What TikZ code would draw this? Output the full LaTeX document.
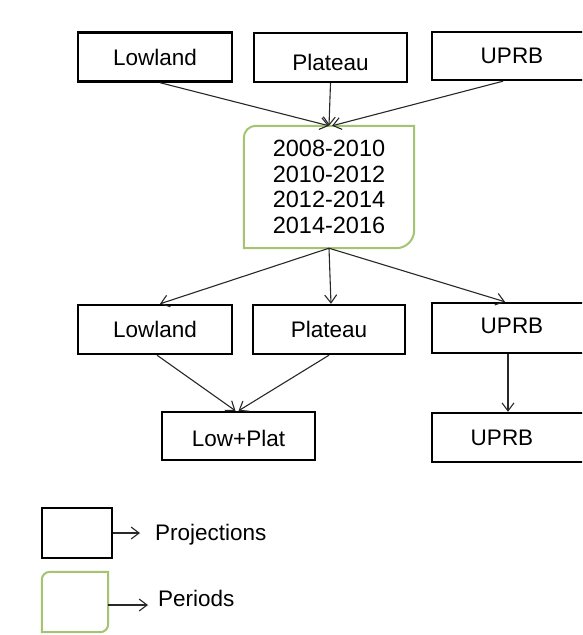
\documentclass[tikz,border=0pt]{standalone}
\usepackage{fontspec}
\setmainfont{Liberation Sans}
\usetikzlibrary{arrows.meta}
\definecolor{pgreen}{RGB}{166,196,112}
\definecolor{arr}{RGB}{40,40,40}
\tikzset{
  proj/.style={draw=black, line width=2.4pt, minimum height=49pt, inner sep=0pt, font=\fontsize{22.5}{26}\selectfont},
  perbox/.style={draw=none, minimum width=170pt, minimum height=122pt, inner sep=0pt, align=center, font=\fontsize{23.5}{25.5}\selectfont},
  conn/.style={draw=arr, line width=1.1pt, -{Straight Barb[length=8pt,width=12pt,line width=1.1pt]}},
  greenline/.style={draw=pgreen, line width=2pt},
  legtxt/.style={inner sep=0pt, anchor=west, font=\fontsize{22.5}{26}\selectfont}
}
\begin{document}
\begin{tikzpicture}[x=1pt,y=-1pt]
\clip (0,0) rectangle (582,635);
\fill[white] (0,0) rectangle (582,635);
% top row
\node[proj, minimum width=154pt] (L1) at (155,57) {Lowland};
\node[proj, minimum width=153pt, text height=26pt, text depth=0pt] (P1) at (330.5,57.5) {Plateau};
\node[proj, minimum width=160pt, minimum height=48pt] (U1) at (512,56) {UPRB};
% periods
\node[perbox] (per) at (329,187) {2008-2010\\2010-2012\\2012-2014\\2014-2016};
\draw[greenline] (per.south west) -- ([yshift=-12pt]per.north west)
  arc[start angle=180,end angle=90,radius=12pt] -- (per.north east)
  -- ([yshift=18pt]per.south east) arc[start angle=0,end angle=-90,radius=18pt] -- cycle;
% second row
\node[proj, minimum width=154pt] (L2) at (155,329.5) {Lowland};
\node[proj, minimum width=152pt] (P2) at (329,329.5) {Plateau};
\node[proj, minimum width=160pt, minimum height=50pt, text height=16pt, text depth=6pt] (U2) at (512,328) {UPRB};
% third row
\node[proj, minimum width=153pt, minimum height=48pt, text height=20pt, text depth=0pt] (LP) at (238.5,436) {Low+Plat};
\node[proj, minimum width=160pt] (U3) at (512,437.5) {\hspace*{-20pt}UPRB};
% connectors
\draw[conn] ([xshift=5pt]L1.south) -- (per.north);
\draw[conn] (P1.south) -- (per.north);
\draw[conn] ([xshift=-9pt]U1.south) -- ([xshift=3pt]per.north);
\draw[conn] (per.south) -- ([xshift=5pt]L2.north);
\draw[conn] (per.south) -- ([xshift=2pt]P2.north);
\draw[conn] (per.south) -- ([xshift=-7pt]U2.north);
\draw[conn] ([xshift=2pt]L2.south) -- ([xshift=-3pt]LP.north);
\draw[conn] (P2.south) -- (LP.north);
\draw[conn] ([xshift=-4pt]U2.south) -- ([xshift=-4pt]U3.north);
% legend
\node[draw=black, line width=2.4pt, minimum width=70pt, minimum height=50pt, inner sep=0pt] (lb) at (77,533) {};
\node[legtxt] (lbt) at (155,535) {Projections};
\draw[conn] (lb.east) -- ([xshift=-15pt]lbt.west |- lb.east);
\node[draw=none, minimum width=66pt, minimum height=60pt, inner sep=0pt] (lg) at (75,602) {};
\draw[greenline] (lg.south west) -- ([yshift=-8pt]lg.north west)
  arc[start angle=180,end angle=90,radius=8pt] -- (lg.north east)
  -- ([yshift=8pt]lg.south east) arc[start angle=0,end angle=-90,radius=8pt] -- cycle;
\node[legtxt] (lgt) at (158,598) {Periods};
\draw[conn] ([yshift=-3pt]lg.east) -- ([xshift=-10pt,yshift=-3pt]lgt.west |- lg.east);
\end{tikzpicture}
\end{document}
